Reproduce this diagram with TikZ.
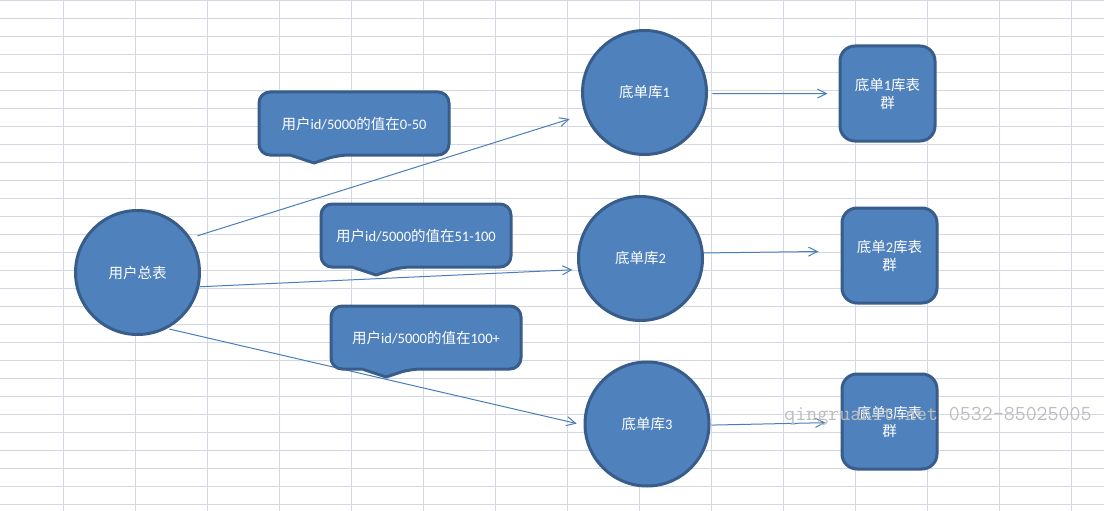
\documentclass[tikz,border=0pt]{standalone}
\usepackage{fontspec}
\setmainfont{Carlito}
\newfontfamily\cjk{Noto Sans CJK SC}
\usetikzlibrary{arrows.meta}
\definecolor{shapefill}{HTML}{4F81BD}
\definecolor{shapeline}{HTML}{385D8A}
\definecolor{gridc}{HTML}{D3D8E4}
\definecolor{arrowc}{HTML}{4A7EBB}
\definecolor{markc}{HTML}{BDBDBD}
\tikzset{
  gridline/.style={draw=gridc,line width=1pt},
  shapestyle/.style={draw=shapeline,fill=shapefill,line width=3pt,text=white,font=\fontsize{14.5}{18}\selectfont,align=center},
  round/.style={shapestyle,circle,minimum size=124pt,inner sep=0pt},
  table/.style={shapestyle,rectangle,rounded corners=15pt,minimum size=95pt,inner sep=0pt},
  bubbletext/.style={text=white,font=\fontsize{14.5}{18}\selectfont,inner sep=0pt},
  link/.style={draw=arrowc,line width=1pt,-{Straight Barb[length=9pt,width=9pt,line width=1pt]}},
}
\newcommand{\bubblebox}[4]{%
  \begin{scope}[shift={(#2,#3)}]
    \draw[draw=shapeline,fill=shapefill,line width=3pt,line join=round,rounded corners=11pt]
      (-95,0) -- (-95,-31.5) -- (95,-31.5) -- (95,31.5) -- (-16,31.5)
      [sharp corners] -- (-40,39.5) -- (-64,31.5)
      [rounded corners=11pt] -- (-95,31.5) -- cycle;
    \node[bubbletext] (#1) at (0,0) {#4};
  \end{scope}}
\begin{document}
\begin{tikzpicture}[x=1pt,y=-1pt]
\useasboundingbox (0,0) rectangle (1104,511);
\fill[white] (0,0) rectangle (1104,511);
\foreach \k in {0,...,28} {\draw[gridline] (0,0.5+18*\k) -- (1104,0.5+18*\k);}
\foreach \k in {0,...,14} {\draw[gridline] (63.5+72*\k,0) -- (63.5+72*\k,511);}

\node[round] (user) at (137.5,272.5) {{\cjk 用户总表}};
\node[round] (dba) at (644.5,92.5) {{\cjk 底单库}1};
\node[round] (dbb) at (640.5,258.5) {{\cjk 底单库}2};
\node[round] (dbc) at (647,424) {{\cjk 底单库}3};
\node[table] (ta) at (887.5,93.5) {{\cjk 底单}1{\cjk 库表}\\{\cjk 群}};
\node[table] (tb) at (889.5,255.5) {{\cjk 底单}2{\cjk 库表}\\{\cjk 群}};
\node[table] (tc) at (889.5,421.5) {{\cjk 底单}3{\cjk 库表}\\{\cjk 群}};

\draw[link,shorten <=7pt,shorten >=16pt] (user.33) -- (dba.200);
\draw[link,shorten >=5.5pt] (user.-13) -- (dbb.190);
\draw[link,shorten <=2pt,shorten >=7pt] (user.-62) -- (dbc.181.5);
\draw[link,shorten <=4.5pt,shorten >=11pt] (dba.-1.4) -- (ta.west);
\draw[link,shorten >=22pt] (dbb.5) -- (tb.175.9);
\draw[link,shorten <=1pt,shorten >=15pt] (dbc.-1) -- (tc.181.8);

\bubblebox{ca}{354}{123.5}{{\cjk 用户}id/5000{\cjk 的值在}0-50}
\bubblebox{cb}{416}{235.5}{{\cjk 用户}id/5000{\cjk 的值在}51-100}
\bubblebox{cc}{426}{337.5}{{\cjk 用户}id/5000{\cjk 的值在}100+}

\node[text=markc,font=\fontsize{21.3}{21.3}\ttfamily,inner sep=0pt] (mark) at (938,416) {qingruanit.net 0532-85025005};
\end{tikzpicture}
\end{document}
